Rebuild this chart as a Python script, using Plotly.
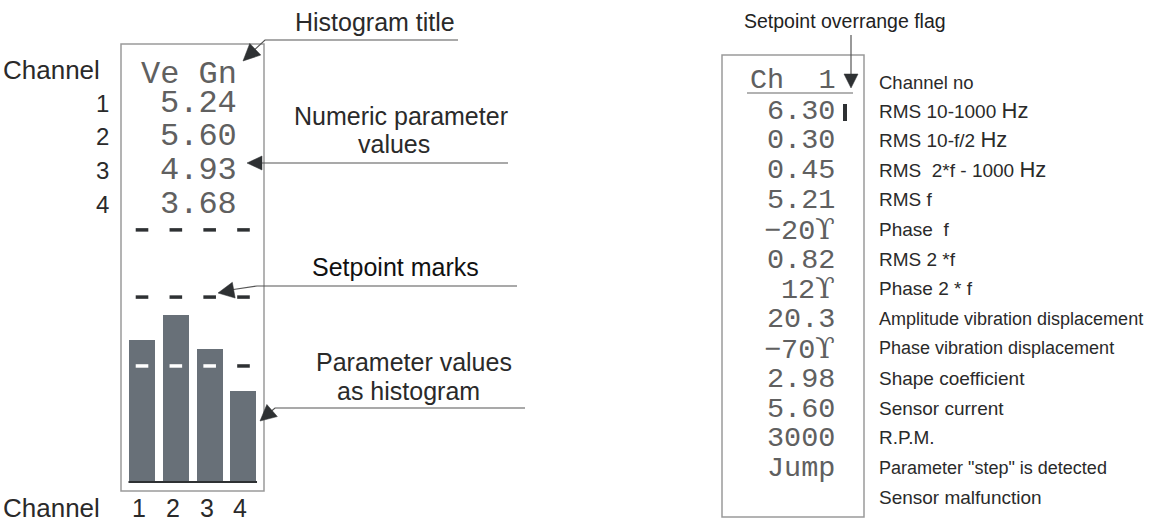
import math
import plotly.graph_objects as go

# ---------------- data ----------------
channels = [1, 2, 3, 4]
channel_values = [5.24, 5.60, 4.93, 3.68]          # numeric readout, left display
bar_levels = [5.1, 6.0, 4.8, 3.3]                   # histogram bar heights (display units)
setpoint_rows = [9.04, 6.64, 4.18]                  # setpoint mark levels (display units)
histogram_title = "Ve Gn"

UPS = "<span style='font-family:DejaVu Serif'>\u03d2</span>"
param_values = ["6.30", "0.30", "0.45", "5.21", "\u221220" + UPS, "0.82", "12" + UPS,
                "20.3", "\u221270" + UPS, "2.98", "5.60", "3000", "Jump"]
param_labels = ["RMS 10-1000 <span style='font-size:22px'>Hz</span>",
                "RMS 10-f/2 <span style='font-size:22px'>Hz</span>",
                "RMS  2*f - 1000 <span style='font-size:22px'>Hz</span>",
                "RMS f", "Phase  f", "RMS 2 *f", "Phase 2 * f",
                "Amplitude vibration displacement", "Phase vibration displacement",
                "Shape coefficient", "Sensor current", "R.P.M.",
                "Parameter \"step\" is detected", "Sensor malfunction"]
channel_no = 1

W, H = 1154, 522
SANS = "Liberation Sans, Arial, sans-serif"
MONO = "Liberation Mono, Courier New, monospace"
MONO_COLOR = "#606060"

fig = go.Figure()

# invisible trace on the canvas axes
fig.add_trace(go.Scatter(x=[0, W], y=[0, H], mode="markers", marker=dict(opacity=0),
                         hoverinfo="skip", showlegend=False, xaxis="x", yaxis="y"))

# ---------------- histogram (bars through axis 2) ----------------
fig.add_trace(go.Bar(x=channels, y=bar_levels, width=0.77, marker=dict(color="#687078", line=dict(width=0)),
                     xaxis="x2", yaxis="y2", showlegend=False, hoverinfo="skip"))

for i, lvl in enumerate(setpoint_rows):
    cols = []
    for b in bar_levels:
        cols.append("#ffffff" if b > lvl else "#2e3133")
    fig.add_trace(go.Scatter(x=channels, y=[lvl] * len(channels), mode="markers",
                             marker=dict(symbol="line-ew", size=9, line=dict(width=3.5, color=cols)),
                             xaxis="x2", yaxis="y2", showlegend=False, hoverinfo="skip", cliponaxis=False))

shapes = []
annotations = []

# baseline under the bars
shapes.append(dict(type="line", xref="x2", yref="y2", x0=0.6, x1=4.4, y0=0.02, y1=0.02,
                   line=dict(color="#2e3133", width=3)))

# display boxes
shapes.append(dict(type="rect", xref="x", yref="y", x0=121, x1=264, y0=44, y1=491,
                   line=dict(color="#9a9a9a", width=1.5)))
shapes.append(dict(type="rect", xref="x", yref="y", x0=722, x1=864, y0=55, y1=517,
                   line=dict(color="#9a9a9a", width=1.5)))


def poly(points, color="#555", width=1.2):
    d = "M " + " L ".join(f"{x},{y}" for x, y in points)
    shapes.append(dict(type="path", xref="x", yref="y", path=d, line=dict(color=color, width=width)))


def head(tip, frm, length=15, half=7, color="#2e3133"):
    dx, dy = tip[0] - frm[0], tip[1] - frm[1]
    n = math.hypot(dx, dy)
    dx, dy = dx / n, dy / n
    bx, by = tip[0] - length * dx, tip[1] - length * dy
    px, py = -dy, dx
    pts = [tip, (bx + half * px, by + half * py), (bx - half * px, by - half * py)]
    d = "M " + " L ".join(f"{x},{y}" for x, y in pts) + " Z"
    shapes.append(dict(type="path", xref="x", yref="y", path=d, fillcolor=color,
                       line=dict(color=color, width=0.5)))


# callout lines + arrowheads
poly([(458, 40), (265, 40), (250, 54)])
head((243, 61), (265, 40), 17, 8)
poly([(508, 163), (258, 163)])
head((247, 163), (262, 163), 15, 7)
poly([(517, 286), (257, 286), (230, 290)])
head((218, 293), (257, 286), 16, 8)
poly([(525, 408), (275, 408), (268, 414)])
head((260, 421), (275, 408), 16, 8)
poly([(851, 35), (851, 76)])
head((851, 88), (851, 35), 14, 7)

# underline under "Ch 1" and overrange flag bar
shapes.append(dict(type="line", xref="x", yref="y", x0=747, x1=853, y0=93, y1=93,
                   line=dict(color="#666", width=1.2)))
shapes.append(dict(type="rect", xref="x", yref="y", x0=843, x1=847, y0=104, y1=121,
                   fillcolor="#2e3133", line=dict(width=0)))


def txt(x, y, s, size, color="#333", family=SANS, xanchor="center", xref="x"):
    annotations.append(dict(x=x, y=y, xref=xref, yref="y", text=s, showarrow=False,
                            xanchor=xanchor, yanchor="middle",
                            font=dict(family=family, size=size, color=color)))


# callout captions
txt(375, 22, "Histogram title", 25, "#2a2a2a")
txt(401, 116, "Numeric parameter", 25, "#2a2a2a")
txt(394, 144, "values", 25, "#2a2a2a")
txt(395, 267, "Setpoint marks", 25, "#111")
txt(414, 362, "Parameter values", 25, "#2a2a2a")
txt(408, 391, "as histogram", 25, "#2a2a2a")
txt(845, 21, "Setpoint overrange flag", 19.5, "#222")

# left display text
txt(102, 70, "Channel", 26, "#2a2a2a", xanchor="right")
txt(102, 508, "Channel", 26, "#2a2a2a", xanchor="right")
for ch in channels:
    annotations.append(dict(x=ch, y=508, xref="x2", yref="y", text=str(ch), showarrow=False,
                            xanchor="center", yanchor="middle", xshift=-3,
                            font=dict(family=SANS, size=25, color="#2a2a2a")))
txt(239, 74, histogram_title, 32, MONO_COLOR, MONO, "right")
for i, (ch, v) in enumerate(zip(channels, channel_values)):
    y = 103 + 33.7 * i
    txt(111, y, str(ch), 24, "#2a2a2a", xanchor="right")
    txt(239, y, f"{v:.2f}", 32, MONO_COLOR, MONO, "right")

# right display text
txt(838, 80, f"Ch  {channel_no}", 28.5, MONO_COLOR, MONO, "right")
txt(877, 82, "Channel no", 18.5, "#2a2a2a", xanchor="left")
for i, v in enumerate(param_values):
    txt(837, 111 + 29.8 * i, v, 28.5, MONO_COLOR, MONO, "right")
for i, lab in enumerate(param_labels):
    size = 18 if ("vibration" in lab or "step" in lab) else 19
    txt(877, 110 + 29.8 * i, lab, size, "#2a2a2a", xanchor="left")

fig.update_layout(
    width=W, height=H,
    margin=dict(l=0, r=0, t=0, b=0),
    paper_bgcolor="white", plot_bgcolor="rgba(0,0,0,0)",
    xaxis=dict(range=[0, W], domain=[0, 1], visible=False, fixedrange=True),
    yaxis=dict(range=[H, 0], domain=[0, 1], visible=False, fixedrange=True),
    xaxis2=dict(range=[0.5, 4.5], domain=[125.1 / W, 260.4 / W], anchor="y2",
                visible=False, fixedrange=True),
    yaxis2=dict(range=[0, 14], domain=[1 - 483 / H, 1 - 91 / H], anchor="x2",
                visible=False, fixedrange=True),
    shapes=shapes, annotations=annotations,
    bargap=0, showlegend=False,
)

fig.write_html("out.html", config={"displayModeBar": False},
               post_script="document.body.style.margin='0';document.body.style.overflow='hidden';")
